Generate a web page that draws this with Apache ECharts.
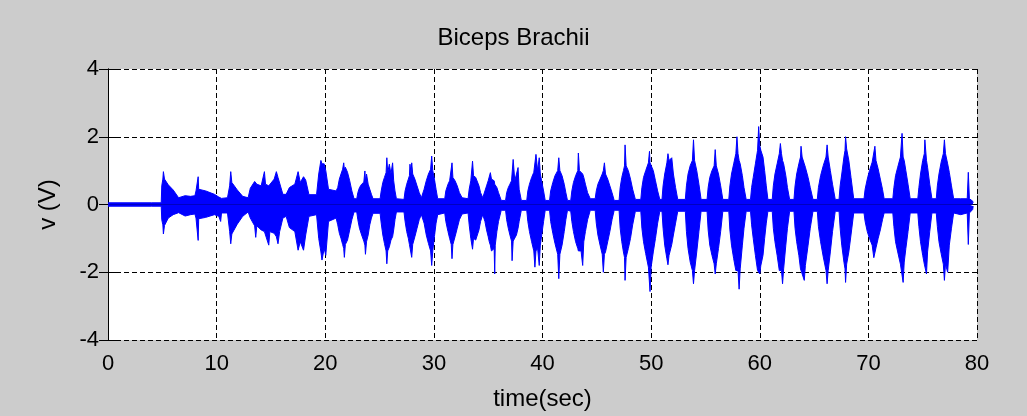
<!DOCTYPE html>
<html>
<head>
<meta charset="utf-8">
<title>Biceps Brachii</title>
<script src="https://cdn.jsdelivr.net/npm/echarts@6/dist/echarts.min.js"></script>
<style>
  html, body { margin: 0; padding: 0; background: #cccccc; }
  #chart { width: 1027px; height: 416px; }
</style>
</head>
<body>
<div id="chart"></div>
<script>
// EMG envelope: time (s), upper and lower edge of the trace (V)
// one line per burst, the three arrays line up entry by entry
const time = [
  0, 4.0, 4.05, 4.15, 4.9, 4.95, 5.05, 5.1, 5.2, 5.55, 6.0, 6.5, 7.1, 7.6, 8.0,
  8.1, 8.25, 8.3, 8.35, 9.0, 9.8, 10.2, 10.37, 10.45, 11.0, 11.2, 11.3, 11.4, 11.9, 12.4, 12.9,
  13.1, 13.5, 13.6, 13.7, 14.1, 14.4, 14.5, 14.8, 14.9, 15.3, 15.5, 15.65, 15.8, 16.1, 16.4,
  16.7, 17.2, 17.5, 17.7, 18.0, 18.2, 18.5, 19.2, 19.4, 19.6, 19.7, 19.9, 20.05, 20.3, 21.0,
  21.05, 21.15, 21.3, 21.45, 21.6, 21.7, 21.76, 21.85, 22.05, 22.25, 22.45, 22.65,
  22.9, 23.0, 23.15, 23.35, 23.55, 23.65, 23.7, 23.8, 23.95, 24.1, 24.25, 24.4,
  25.05, 25.15, 25.3, 25.45, 25.6, 25.67, 25.75, 25.9, 26.05, 26.2, 26.3, 26.42, 26.55,
  27.25, 27.35, 27.5, 27.65, 27.75, 27.8, 27.9, 27.96, 28.05, 28.25, 28.45, 28.65, 28.85,
  29.0, 29.1, 29.3, 29.5, 29.7, 29.8, 29.9, 30.05, 30.2, 30.35,
  31.0, 31.1, 31.3, 31.45, 31.6, 31.67, 31.75, 31.95, 32.15, 32.35, 32.6,
  33.15, 33.25, 33.4, 33.56, 33.65, 33.85, 34.0, 34.15, 34.3, 34.5,
  34.6, 34.7, 34.85, 35.0, 35.1, 35.2, 35.3, 35.45, 35.55, 35.6, 35.65, 35.8, 35.95, 36.2,
  36.6, 36.7, 36.85, 37.0, 37.15, 37.2, 37.3, 37.45, 37.6, 37.75, 37.85, 38.05,
  38.55, 38.65, 38.8, 39.0, 39.2, 39.3, 39.4, 39.55, 39.7, 39.8, 39.95, 40.1, 40.25,
  40.65, 40.75, 40.95, 41.15, 41.4, 41.5, 41.6, 41.8, 42.0, 42.15, 42.3,
  42.6, 42.7, 42.85, 43.05, 43.25, 43.3, 43.4, 43.55, 43.7, 43.8, 43.95, 44.15, 44.4,
  44.85, 44.95, 45.1, 45.3, 45.5, 45.6, 45.7, 45.8, 46.0, 46.2, 46.4, 46.6,
  47.05, 47.15, 47.3, 47.45, 47.55, 47.6, 47.7, 47.9, 48.1, 48.3, 48.55,
  49.05, 49.15, 49.3, 49.5, 49.75, 49.85, 49.9, 50.0, 50.2, 50.4, 50.6, 50.8,
  51.0, 51.1, 51.25, 51.45, 51.55, 51.65, 51.9, 52.05, 52.25, 52.45,
  53.15, 53.25, 53.4, 53.6, 53.8, 53.9, 54.0, 54.2, 54.4, 54.6,
  55.15, 55.25, 55.4, 55.6, 55.8, 55.9, 56.0, 56.2, 56.4, 56.6,
  57.15, 57.25, 57.4, 57.6, 57.8, 57.9, 58.0, 58.1, 58.2, 58.4, 58.55, 58.75,
  59.15, 59.25, 59.4, 59.6, 59.8, 59.9, 60.0, 60.1, 60.3, 60.45, 60.6, 60.75,
  61.15, 61.25, 61.4, 61.6, 61.8, 61.9, 62.0, 62.1, 62.2, 62.4, 62.55, 62.75,
  63.15, 63.25, 63.4, 63.6, 63.75, 63.8, 63.9, 64.1, 64.2, 64.45, 64.65, 64.9,
  65.3, 65.4, 65.6, 65.85, 66.1, 66.2, 66.3, 66.5, 66.7, 66.95,
  67.3, 67.4, 67.55, 67.75, 67.85, 67.9, 68.0, 68.2, 68.4, 68.65,
  69.6, 69.7, 69.9, 70.1, 70.35, 70.5, 70.6, 70.7, 70.9, 71.1, 71.3, 71.45,
  72.25, 72.35, 72.5, 72.7, 72.95, 73.1, 73.2, 73.3, 73.45, 73.65, 73.85,
  74.55, 74.65, 74.8, 75.0, 75.15, 75.2, 75.35, 75.45, 75.65, 75.85,
  76.25, 76.35, 76.5, 76.7, 76.9, 77.0, 77.1, 77.3, 77.45, 77.65, 77.85,
  78.5, 79.1, 79.2, 79.3, 79.6, 79.65
]
const upperV = [
  0.05, 0.05, 0.1, 0.05, 0.05, 0.55, 0.75, 0.97, 0.75, 0.58, 0.43, 0.2, 0.26, 0.24, 0.26,
  0.4, 0.45, 0.82, 0.45, 0.4, 0.3, 0.22, 0.2, 0.18, 0.2, 0.55, 0.97, 0.65, 0.43, 0.24, 0.2,
  0.48, 0.68, 0.72, 0.6, 0.55, 0.97, 0.6, 0.55, 0.6, 0.75, 0.97, 0.8, 0.75, 0.3, 0.3,
  0.5, 0.6, 0.97, 0.65, 0.82, 0.72, 0.29, 0.29, 0.9, 1.3, 1.2, 1.2, 1.0, 0.45, 0.4,
  0.35, 0.5, 0.75, 0.9, 1.04, 1.23, 1.04, 1.1, 0.95, 0.7, 0.4, 0.17,
  0.17, 0.35, 0.5, 0.6, 0.66, 0.99, 0.7, 0.9, 0.6, 0.45, 0.3, 0.17,
  0.17, 0.4, 0.65, 0.8, 0.94, 1.38, 0.94, 1.19, 0.9, 1.23, 0.7, 0.4, 0.17,
  0.15, 0.4, 0.6, 0.75, 0.85, 1.19, 0.9, 1.23, 0.9, 0.75, 0.55, 0.35, 0.2,
  0.2, 0.45, 0.7, 0.9, 1.04, 1.43, 1.0, 0.75, 0.45, 0.17,
  0.17, 0.4, 0.6, 0.7, 0.75, 1.23, 0.8, 0.7, 0.55, 0.35, 0.2,
  0.17, 0.45, 0.7, 1.28, 0.85, 0.8, 0.75, 0.55, 0.35, 0.2,
  0.2, 0.4, 0.55, 0.7, 0.75, 0.94, 0.75, 0.72, 0.7, 0.6, 0.6, 0.5, 0.35, 0.12,
  0.12, 0.35, 0.5, 0.6, 0.7, 0.7, 1.33, 0.7, 0.65, 1.09, 0.45, 0.12,
  0.12, 0.4, 0.6, 0.8, 0.95, 1.0, 1.48, 1.0, 1.38, 0.9, 0.65, 0.4, 0.12,
  0.12, 0.4, 0.65, 0.85, 1.0, 1.38, 1.0, 0.85, 0.6, 0.35, 0.12,
  0.12, 0.4, 0.65, 0.85, 1.0, 1.52, 1.0, 0.95, 0.9, 0.8, 0.6, 0.35, 0.17,
  0.17, 0.4, 0.6, 0.75, 0.9, 1.0, 1.23, 0.9, 0.75, 0.55, 0.35, 0.12,
  0.12, 0.5, 0.8, 1.0, 1.14, 1.76, 1.14, 1.0, 0.75, 0.45, 0.15,
  0.15, 0.5, 0.8, 1.0, 1.23, 1.57, 1.23, 1.23, 1.0, 0.7, 0.4, 0.15,
  0.15, 0.55, 0.9, 1.23, 1.5, 1.3, 1.38, 0.9, 0.5, 0.15,
  0.15, 0.55, 0.9, 1.15, 1.3, 1.91, 1.3, 1.0, 0.6, 0.15,
  0.15, 0.5, 0.8, 1.0, 1.14, 1.62, 1.14, 0.9, 0.55, 0.15,
  0.15, 0.55, 0.9, 1.2, 1.5, 2.0, 1.5, 1.3, 1.2, 0.85, 0.5, 0.15,
  0.15, 0.5, 0.8, 1.2, 1.6, 2.3, 1.74, 1.6, 1.4, 1.0, 0.55, 0.15,
  0.15, 0.55, 0.9, 1.2, 1.5, 1.8, 1.5, 1.3, 1.2, 0.85, 0.5, 0.15,
  0.15, 0.55, 0.9, 1.2, 1.4, 1.72, 1.4, 1.2, 1.1, 0.8, 0.5, 0.15,
  0.15, 0.5, 0.85, 1.15, 1.4, 1.76, 1.4, 1.0, 0.6, 0.15,
  0.15, 0.55, 0.9, 1.4, 1.6, 2.0, 1.64, 1.3, 0.8, 0.17,
  0.17, 0.45, 0.75, 1.0, 1.25, 1.3, 1.72, 1.3, 1.05, 0.75, 0.45, 0.17,
  0.17, 0.5, 0.85, 1.1, 1.4, 2.1, 1.4, 1.3, 1.0, 0.6, 0.17,
  0.17, 0.5, 0.9, 1.3, 1.5, 1.91, 1.3, 1.1, 0.6, 0.17,
  0.17, 0.55, 0.9, 1.25, 1.5, 1.91, 1.5, 1.2, 0.95, 0.55, 0.17,
  0.17, 0.17, 0.95, 0.17, 0.1, 0.05
]
const lowerV = [
  -0.05, -0.05, -0.1, -0.05, -0.05, -0.45, -0.6, -0.87, -0.62, -0.4, -0.3, -0.24, -0.34, -0.3, -0.28,
  -0.4, -0.42, -1.06, -0.42, -0.38, -0.3, -0.35, -0.5, -0.25, -0.25, -0.8, -1.16, -0.87, -0.58, -0.35, -0.22,
  -0.4, -0.63, -0.97, -0.63, -0.75, -0.8, -0.75, -1.2, -0.8, -0.85, -0.95, -1.16, -0.8, -0.4, -0.35,
  -0.68, -0.8, -1.35, -1.1, -1.35, -0.9, -0.35, -0.3, -1.0, -1.4, -1.64, -1.3, -1.5, -0.5, -0.4,
  -0.4, -0.6, -0.85, -1.0, -1.18, -1.3, -1.56, -1.18, -1.05, -0.75, -0.45, -0.22,
  -0.22, -0.45, -0.7, -0.9, -1.08, -1.2, -1.47, -1.1, -0.9, -0.6, -0.4, -0.26,
  -0.26, -0.55, -0.9, -1.15, -1.37, -1.75, -1.37, -1.25, -1.05, -0.95, -0.75, -0.45, -0.22,
  -0.22, -0.5, -0.8, -1.0, -1.18, -1.2, -1.2, -1.56, -1.18, -0.95, -0.7, -0.45, -0.3,
  -0.3, -0.55, -0.9, -1.15, -1.37, -1.8, -1.37, -0.95, -0.55, -0.3,
  -0.25, -0.5, -0.8, -1.0, -1.18, -1.6, -1.18, -0.95, -0.7, -0.45, -0.28,
  -0.25, -0.6, -1.0, -1.32, -1.0, -1.05, -1.1, -0.75, -0.5, -0.3,
  -0.3, -0.5, -0.75, -0.95, -1.1, -1.2, -1.37, -1.37, -1.3, -2.05, -1.2, -0.8, -0.5, -0.17,
  -0.17, -0.45, -0.7, -0.9, -1.08, -1.66, -1.08, -1.08, -0.9, -0.7, -0.5, -0.17,
  -0.17, -0.5, -0.8, -1.1, -1.37, -1.85, -1.37, -1.3, -1.8, -1.2, -0.85, -0.5, -0.17,
  -0.17, -0.5, -0.85, -1.15, -1.47, -2.19, -1.47, -1.2, -0.8, -0.45, -0.17,
  -0.2, -0.5, -0.8, -1.1, -1.3, -1.37, -1.37, -1.37, -1.8, -1.1, -0.8, -0.45, -0.17,
  -0.17, -0.55, -0.9, -1.2, -1.47, -2.0, -1.47, -1.4, -1.1, -0.8, -0.45, -0.17,
  -0.17, -0.7, -1.1, -1.4, -1.56, -2.24, -1.56, -1.3, -1.0, -0.6, -0.2,
  -0.2, -0.7, -1.1, -1.45, -1.85, -1.85, -2.57, -1.85, -1.4, -1.0, -0.55, -0.2,
  -0.2, -0.7, -1.2, -1.6, -1.78, -1.5, -1.18, -0.9, -0.55, -0.2,
  -0.2, -0.8, -1.3, -1.7, -1.95, -2.34, -1.95, -1.4, -0.8, -0.2,
  -0.2, -0.75, -1.2, -1.5, -1.75, -2.05, -1.75, -1.3, -0.8, -0.2,
  -0.2, -0.75, -1.2, -1.6, -1.95, -1.95, -1.95, -2.5, -1.9, -1.2, -0.7, -0.2,
  -0.2, -0.6, -1.0, -1.5, -1.95, -1.95, -2.05, -1.8, -1.5, -1.0, -0.55, -0.2,
  -0.2, -0.7, -1.1, -1.5, -1.95, -1.95, -1.95, -2.34, -1.9, -1.2, -0.7, -0.2,
  -0.2, -0.7, -1.1, -1.5, -1.9, -1.95, -1.95, -2.24, -1.8, -1.2, -0.7, -0.2,
  -0.2, -0.65, -1.1, -1.55, -1.95, -2.34, -1.95, -1.4, -0.8, -0.2,
  -0.2, -0.7, -1.2, -1.7, -1.9, -2.3, -1.76, -1.4, -0.9, -0.25,
  -0.25, -0.5, -0.8, -1.0, -1.2, -1.57, -1.57, -1.28, -1.0, -0.75, -0.45, -0.25,
  -0.25, -0.65, -1.1, -1.4, -1.76, -1.76, -2.3, -1.7, -1.3, -0.8, -0.25,
  -0.25, -0.65, -1.1, -1.5, -1.76, -1.76, -2.05, -1.4, -0.8, -0.25,
  -0.25, -0.65, -1.1, -1.45, -1.76, -2.24, -1.76, -2.0, -1.2, -0.7, -0.25,
  -0.3, -0.25, -1.18, -0.25, -0.15, -0.05
]
if (time.length !== upperV.length || time.length !== lowerV.length) {
  throw new Error('length mismatch ' + time.length + ' ' + upperV.length + ' ' + lowerV.length)
}
const xTicks = [0, 80, 10]
const yTicks = [-4, 4, 2]

const font = 'Liberation Sans, Arial, sans-serif'
const blue = '#0000ff'

const myChart = echarts.init(document.getElementById('chart'))
const edge = (data) => ({
  type: 'line',
  data: data,
  xAxisIndex: 0,
  yAxisIndex: 0,
  symbol: 'none',
  silent: true,
  lineStyle: { color: blue, width: 1 },
  areaStyle: { color: blue, opacity: 1, origin: 'auto' }
})
const boxTick = { show: true, inside: true, length: 9, lineStyle: { color: '#000' } }
const gridDash = { show: true, lineStyle: { color: '#000', type: [5, 3] } }

myChart.setOption({
  backgroundColor: '#cccccc',
  animation: false,
  title: {
    text: 'Biceps Brachii',
    left: 'center',
    top: 21,
    textStyle: { fontFamily: font, fontSize: 24, fontWeight: 'normal', color: '#000' }
  },
  grid: {
    left: 108, top: 69, width: 869, height: 276,
    show: true, backgroundColor: '#ffffff', borderWidth: 0
  },
  xAxis: [{
    type: 'value',
    min: xTicks[0], max: xTicks[1], interval: xTicks[2],
    name: 'time(sec)',
    nameLocation: 'middle',
    nameGap: 47,
    nameTextStyle: { fontFamily: font, fontSize: 24, color: '#000' },
    axisLine: { lineStyle: { color: '#000' } },
    axisTick: boxTick,
    axisLabel: { fontFamily: font, fontSize: 22, color: '#000', margin: 13 },
    splitLine: gridDash
  }, {
    type: 'value', position: 'top',
    min: xTicks[0], max: xTicks[1], interval: xTicks[2],
    axisLine: { lineStyle: { color: '#000' } },
    axisTick: boxTick,
    axisLabel: { show: false },
    splitLine: { show: false }
  }],
  yAxis: [{
    type: 'value',
    min: yTicks[0], max: yTicks[1], interval: yTicks[2],
    name: 'v (V)',
    nameLocation: 'middle',
    nameGap: 48,
    nameTextStyle: { fontFamily: font, fontSize: 24, color: '#000' },
    axisLine: { show: true, lineStyle: { color: '#000' } },
    axisTick: boxTick,
    axisLabel: { fontFamily: font, fontSize: 22, color: '#000', margin: 9 },
    splitLine: gridDash
  }, {
    type: 'value', position: 'right',
    min: yTicks[0], max: yTicks[1], interval: yTicks[2],
    axisLine: { show: true, lineStyle: { color: '#000' } },
    axisTick: boxTick,
    axisLabel: { show: false },
    splitLine: { show: false }
  }],
  series: [
    edge(time.map((t, i) => [t, upperV[i]])),
    edge(time.map((t, i) => [t, lowerV[i]]))
  ]
})
</script>
</body>
</html>
